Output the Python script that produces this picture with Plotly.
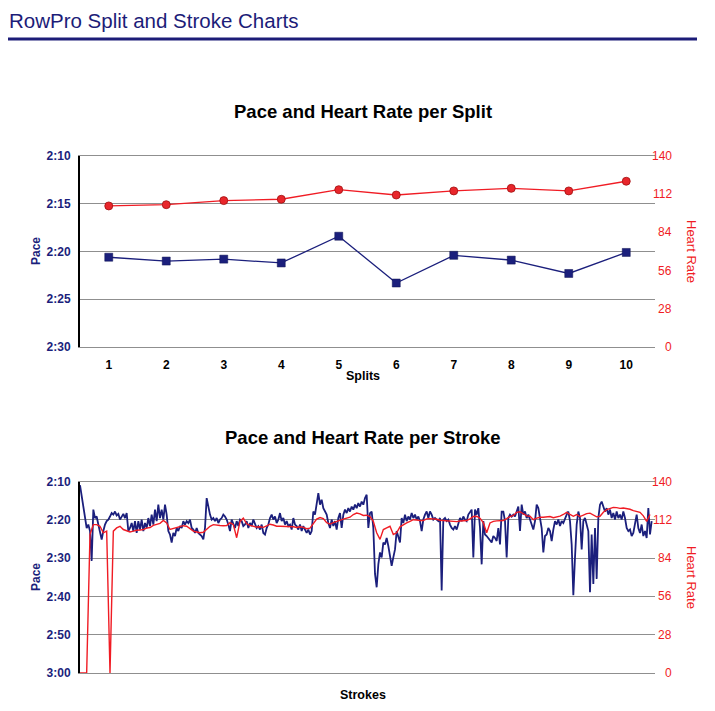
import plotly.graph_objects as go

# page is 715x711; the browser body keeps its default 8px margin
PAGE_W, PAGE_H = 715, 711
BODY_MARGIN = 8
W, H = PAGE_W - 2 * BODY_MARGIN, PAGE_H - 2 * BODY_MARGIN

# ---------------- data ----------------
split_labels = [1, 2, 3, 4, 5, 6, 7, 8, 9, 10]
split_pace = [140.6, 141.0, 140.8, 141.2, 138.4, 143.3, 140.4, 140.9, 142.3, 140.1]  # seconds / 500m
split_hr = [103.4, 104.3, 107.3, 108.3, 115.3, 111.4, 114.4, 116.3, 114.4, 121.5]

pace_ticks_top = [130, 135, 140, 145, 150]
pace_text_top = ["2:10", "2:15", "2:20", "2:25", "2:30"]
pace_ticks_bottom = [130, 140, 150, 160, 170, 180]
pace_text_bottom = ["2:10", "2:20", "2:30", "2:40", "2:50", "3:00"]
hr_ticks = [0, 28, 56, 84, 112, 140]

stroke_pace = [
    130.9, 133.5, 136.5, 139.5, 142.1, 141.2, 142.9, 150.7, 137.3, 139.5,
    139.1, 141.2, 142.9, 145.1, 142.9, 141.2, 140.3, 139.9, 139.1, 138.2,
    138.6, 137.8, 138.8, 138.4, 139.9, 139.1, 138.4, 139.5, 138.2, 142.9,
    142.1, 140.8, 142.9, 140.3, 143.4, 140.3, 142.5, 139.9, 142.9, 140.8,
    142.1, 139.5, 141.6, 138.6, 141.2, 137.3, 140.3, 136.0, 139.5, 137.3,
    139.9, 136.0, 138.6, 142.9, 143.8, 145.9, 143.4, 144.2, 142.1, 142.9,
    141.6, 142.1, 140.3, 141.2, 140.3, 140.8, 139.9, 142.1, 142.5, 143.4,
    142.1, 143.4, 143.8, 144.2, 145.1, 142.1, 134.3, 136.5, 138.6, 139.9,
    139.5, 140.3, 139.5, 140.8, 139.9, 139.5, 138.6, 139.1,
    139.9, 141.2, 142.9, 139.9, 140.8, 142.1, 140.3, 141.6, 139.9, 140.3,
    141.6, 141.2, 140.3, 142.1, 140.8, 141.6, 139.9, 141.2, 142.1, 141.6,
    142.5, 141.2, 143.4, 143.8, 142.1, 141.2, 139.5, 138.6, 139.9, 139.1,
    140.8, 139.9, 138.2, 140.3, 139.5, 141.2, 140.3, 141.6, 141.2, 142.5,
    139.5, 141.2, 141.6, 142.5, 141.2, 142.9, 141.6, 142.5, 143.4, 142.5,
    143.8, 142.9, 137.8, 138.6, 135.2, 133.0, 136.0, 134.7, 136.9, 137.8,
    138.6, 140.8, 142.1, 139.9, 141.6, 140.3, 142.5, 139.5, 138.2, 142.1,
    138.6, 137.3, 138.2, 136.9, 137.8, 136.5, 137.3, 136.0, 136.9, 135.6,
    136.5, 135.2, 136.0, 134.3, 133.4, 142.1,
    138.2, 137.8, 142.1, 154.1, 157.6, 151.6, 148.5, 149.8, 145.9, 146.4,
    144.7, 146.8, 149.0, 152.0, 149.8, 147.7, 142.9, 144.7, 145.9, 139.5,
    140.8, 138.6, 140.3, 139.1, 139.9, 138.2, 139.5, 138.6, 139.9, 139.1,
    140.3, 142.9, 139.9, 138.6, 137.8, 139.5, 137.8, 138.6, 139.9, 139.5,
    139.9, 140.3, 139.5, 158.4, 139.9, 139.5, 140.3, 139.9, 141.2, 142.1,
    142.5, 141.6, 142.5, 141.2, 139.5, 140.3, 139.1, 139.9, 140.3, 138.6,
    137.8, 137.3, 149.8, 137.3, 138.6, 136.9, 142.1, 151.6, 140.3, 143.8,
    144.2, 144.7, 145.5, 145.9, 144.2, 144.7, 145.5, 142.1, 146.4, 137.8,
    137.8, 140.3, 149.8, 139.5, 138.6, 139.1,
    138.6, 139.1, 137.8, 136.5, 142.9, 136.0, 138.6, 137.8, 139.5, 138.6,
    139.9, 141.2, 142.5, 140.3, 136.0, 136.9, 139.5, 142.1, 148.5, 144.2,
    143.8, 142.1, 142.9, 145.5, 142.5, 140.3, 141.2, 139.9, 141.6, 140.3,
    140.8, 139.5, 138.6, 137.8, 140.3, 146.4, 159.7, 149.8, 141.2, 137.8,
    139.5, 147.7, 140.3, 139.5, 141.2, 142.9, 158.9, 143.8, 156.7, 142.1,
    155.4, 139.5, 136.0, 135.2, 136.5, 137.8, 136.9, 138.6, 137.3, 139.5,
    138.2, 139.9, 137.8, 139.5, 138.6, 139.9, 137.8, 139.5, 142.1, 142.9,
    142.5, 144.2, 143.4, 141.2, 138.6, 142.1, 143.4, 141.2, 144.2, 142.9,
    144.7, 136.9, 143.8, 140.3,
]

stroke_hr = [
    0, 0, 0, 101.4, 108.6, 108.6, 107.4, 102.6, 103.8, 0,
    103.8, 106.2, 107.4, 105.0, 103.8, 103.2, 103.8, 104.5, 104.6, 105.0,
    106.0, 106.5, 108.0, 108.6, 109.5, 111.6, 109.8, 105.0, 105.6, 106.2,
    106.8, 107.8, 107.4, 105.4, 103.8, 103.2, 102.6, 103.0, 105.0, 107.4,
    108.6, 108.0, 107.9, 107.8,
    107.9, 110.0, 108.6, 99.0, 110.9, 113.4, 109.2, 108.0, 107.4, 106.8,
    107.0, 106.6, 107.7, 108.9, 108.3, 107.4, 107.4, 107.4, 107.0, 107.0,
    107.0, 106.5, 107.0, 106.6, 105.6, 106.0, 109.8, 112.6, 113.8, 113.0,
    110.0, 109.0, 110.0, 111.0, 112.2, 112.6, 113.4, 114.0, 116.0, 117.1,
    116.5, 115.3, 115.5,
    114.5, 111.0, 102.6, 97.8, 105.0, 106.2, 107.4, 101.4, 102.6, 107.0,
    108.6, 109.8, 111.0, 112.2, 112.0, 111.5, 111.6, 112.8, 113.0, 112.8,
    112.5, 111.8, 111.5, 111.2, 111.0, 110.8, 110.8, 111.2, 111.3, 111.6,
    112.8, 114.5, 114.7, 113.2, 110.0, 102.6, 109.8, 111.0, 111.3, 111.2,
    111.6, 113.0, 114.5,
    115.3, 117.6, 118.0, 116.5, 115.0, 114.7, 112.2, 113.4, 114.0, 114.0,
    114.0, 114.5, 113.6, 114.0, 114.8, 116.0, 117.6, 116.0, 114.7, 115.9,
    114.5, 115.5, 116.6, 117.0, 115.8, 114.3, 114.7, 117.6, 119.5, 120.4,
    121.2, 121.0, 120.5, 120.7, 120.5, 119.8, 118.8, 118.3, 117.6, 115.0,
    111.0, 116.0,
]

strokes = list(range(1, len(stroke_pace) + 1))
hr_strokes = strokes[::2][:len(stroke_hr)]

# ---------------- styling ----------------
NAVY = "#1b1f7c"
RED = "#f01c24"
GRID = "#8f8f8f"
FONT = "Liberation Sans"

def px_x(x):
    return (x - BODY_MARGIN) / W

def px_y(y):
    return 1 - (y - BODY_MARGIN) / H

x_dom = [px_x(80), px_x(655)]
top_dom = [px_y(347), px_y(156)]
bot_dom = [px_y(673), px_y(481.7)]

fig = go.Figure()

fig.add_trace(go.Scatter(
    x=split_labels, y=split_pace, xaxis="x", yaxis="y", mode="lines+markers",
    line=dict(color=NAVY, width=1.3),
    marker=dict(symbol="square", size=8, color=NAVY, line=dict(color="#0d1050", width=0.5)),
    showlegend=False, hoverinfo="skip"))
fig.add_trace(go.Scatter(
    x=split_labels, y=split_hr, xaxis="x", yaxis="y2", mode="lines+markers",
    line=dict(color=RED, width=1.3),
    marker=dict(symbol="circle", size=8, color="#e8262b", line=dict(color="#a01010", width=0.8)),
    showlegend=False, hoverinfo="skip"))

fig.add_trace(go.Scatter(
    x=strokes, y=stroke_pace, xaxis="x2", yaxis="y3", mode="lines",
    line=dict(color=NAVY, width=1.8),
    showlegend=False, hoverinfo="skip"))
fig.add_trace(go.Scatter(
    x=hr_strokes, y=stroke_hr, xaxis="x2", yaxis="y4", mode="lines",
    line=dict(color=RED, width=1.4),
    showlegend=False, hoverinfo="skip"))

bold = dict(family=FONT, size=12, weight="bold")

fig.update_layout(
    width=W, height=H, autosize=False,
    margin=dict(l=0, r=0, t=0, b=0, pad=0),
    paper_bgcolor="white", plot_bgcolor="white",
    font=dict(family=FONT),
    xaxis=dict(domain=x_dom, anchor="y", range=[0.5, 10.5],
               tickvals=split_labels, ticktext=[str(v) for v in split_labels],
               showgrid=False, zeroline=False,
               showline=True, mirror=True, linecolor=GRID, linewidth=1,
               ticks="outside", ticklen=7, tickcolor="rgba(0,0,0,0)",
               tickfont=dict(bold, color="black"), automargin=False),
    yaxis=dict(domain=top_dom, anchor="x", range=[150, 130],
               tickvals=pace_ticks_top, ticktext=pace_text_top,
               showgrid=True, gridcolor=GRID, gridwidth=1, zeroline=False,
               showline=True, linecolor="black", linewidth=2,
               ticks="outside", ticklen=5, tickcolor="rgba(0,0,0,0)",
               tickfont=dict(bold, color=NAVY), automargin=False),
    yaxis2=dict(domain=top_dom, anchor="x", overlaying="y", side="right",
                range=[0, 140], showgrid=False, zeroline=False,
                showticklabels=False, showline=False, automargin=False),
    xaxis2=dict(domain=x_dom, anchor="y3", range=[1, 346],
                showgrid=False, zeroline=False,
                showline=True, mirror=True, linecolor=GRID, linewidth=1,
                showticklabels=False, ticks="", automargin=False),
    yaxis3=dict(domain=bot_dom, anchor="x2", range=[180, 130],
                tickvals=pace_ticks_bottom, ticktext=pace_text_bottom,
                showgrid=True, gridcolor=GRID, gridwidth=1, zeroline=False,
                showline=True, linecolor="black", linewidth=2,
                ticks="outside", ticklen=5, tickcolor="rgba(0,0,0,0)",
                tickfont=dict(bold, color=NAVY), automargin=False),
    yaxis4=dict(domain=bot_dom, anchor="x2", overlaying="y3", side="right",
                range=[0, 140], showgrid=False, zeroline=False,
                showticklabels=False, showline=False, automargin=False),
)

ann = []
ann.append(dict(text="RowPro Split and Stroke Charts", x=px_x(7), y=px_y(20),
                xref="paper", yref="paper", xanchor="left", yanchor="middle",
                showarrow=False, font=dict(family=FONT, size=20.5, color="#1c1c78")))
ann.append(dict(text="Pace and Heart Rate per Split", x=px_x(363), y=px_y(111),
                xref="paper", yref="paper", xanchor="center", yanchor="middle",
                showarrow=False, font=dict(family=FONT, size=18.5, color="black", weight="bold")))
ann.append(dict(text="Pace and Heart Rate per Stroke", x=px_x(363), y=px_y(437),
                xref="paper", yref="paper", xanchor="center", yanchor="middle",
                showarrow=False, font=dict(family=FONT, size=18.5, color="black", weight="bold")))
for yc in (251, 577):
    ann.append(dict(text="Pace", x=px_x(36), y=px_y(yc), xref="paper", yref="paper",
                    xanchor="center", yanchor="middle", textangle=-90, showarrow=False,
                    font=dict(family=FONT, size=12, color=NAVY, weight="bold")))
    ann.append(dict(text="Heart Rate", x=px_x(692), y=px_y(yc), xref="paper", yref="paper",
                    xanchor="center", yanchor="middle", textangle=90, showarrow=False,
                    font=dict(family=FONT, size=13, color=RED)))
ann.append(dict(text="Splits", x=px_x(363), y=px_y(376), xref="paper", yref="paper",
                xanchor="center", yanchor="middle", showarrow=False,
                font=dict(family=FONT, size=12.5, color="black", weight="bold")))
ann.append(dict(text="Strokes", x=px_x(363), y=0, xref="paper", yref="paper",
                xanchor="center", yanchor="bottom", showarrow=False, borderpad=0,
                font=dict(family=FONT, size=12.5, color="black", weight="bold")))
for yref in ("y2", "y4"):
    for v in hr_ticks:
        ann.append(dict(text=str(v), x=px_x(674), y=v, xref="paper", yref=yref,
                        xanchor="right", yanchor="middle", showarrow=False,
                        font=dict(family=FONT, size=12, color=RED)))
fig.update_layout(annotations=ann)

fig.add_shape(type="line", xref="paper", yref="paper",
              x0=px_x(8), x1=px_x(697), y0=px_y(39), y1=px_y(39),
              line=dict(color="#1c1c78", width=3))

fig.write_html("out.html", config={"displayModeBar": False})
